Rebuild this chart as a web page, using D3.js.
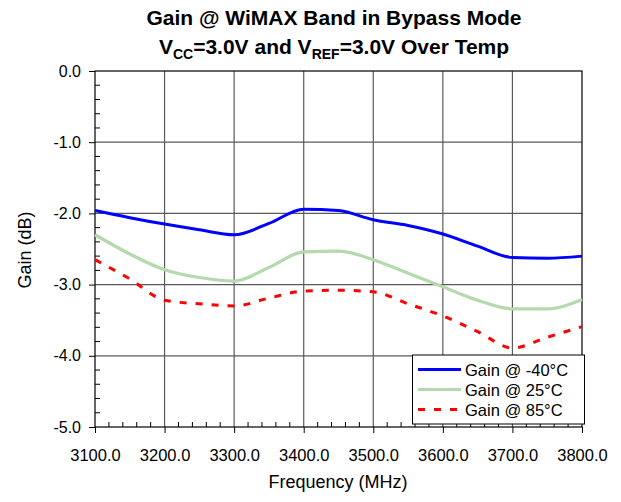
<!DOCTYPE html>
<html><head><meta charset="utf-8">
<script src="https://cdn.jsdelivr.net/npm/d3@7"></script>
<style>body{margin:0;background:#fff}svg{display:block}text{font-family:"Liberation Sans",Arial,sans-serif;fill:#000}</style>
</head><body><svg id="c" width="621" height="502"></svg>
<script>
const freqs = [3100,3150,3200,3250,3300,3350,3400,3450,3500,3550,3600,3650,3700,3750,3800];
const gainM40 = [-1.96,-2.06,-2.15,-2.23,-2.30,-2.14,-1.94,-1.96,-2.09,-2.17,-2.29,-2.46,-2.62,-2.63,-2.60];
const gain25  = [-2.30,-2.57,-2.79,-2.90,-2.95,-2.76,-2.54,-2.53,-2.65,-2.84,-3.03,-3.22,-3.34,-3.34,-3.21];
const gain85  = [-2.65,-2.92,-3.22,-3.27,-3.30,-3.19,-3.09,-3.08,-3.10,-3.27,-3.44,-3.66,-3.89,-3.74,-3.59];
const xTicks = [3100,3200,3300,3400,3500,3600,3700,3800];
const yTicks = [0,-1,-2,-3,-4,-5];
const seriesNames = ["Gain @ -40\u00B0C","Gain @ 25\u00B0C","Gain @ 85\u00B0C"];

const svg = d3.select("#c");
const L=95, R=582, T=71, B=427;
const x = d3.scaleLinear().domain([3100,3800]).range([L,R]);
const y = d3.scaleLinear().domain([0,-5]).range([T,B]);
const fmt = d => d3.format(".1f")(d).replace("\u2212","-");

// grid
svg.append("g").selectAll("line.v").data(xTicks.slice(1,-1)).join("line")
  .attr("x1",d=>x(d)).attr("x2",d=>x(d)).attr("y1",T).attr("y2",B)
  .attr("stroke","#5a5a5a").attr("stroke-width",1.2);
svg.append("g").selectAll("line.h").data(yTicks.slice(1,-1)).join("line")
  .attr("y1",d=>y(d)).attr("y2",d=>y(d)).attr("x1",L).attr("x2",R)
  .attr("stroke","#5a5a5a").attr("stroke-width",1.2);
svg.append("rect").attr("x",L).attr("y",T).attr("width",R-L).attr("height",B-T)
  .attr("fill","none").attr("stroke","#000").attr("stroke-width",1.2);

// axes
const xAxis = d3.axisBottom(x).tickValues(xTicks).tickFormat(fmt).tickSizeInner(6).tickSizeOuter(0).tickPadding(16);
const gx = svg.append("g").attr("transform",`translate(0,${B})`).call(xAxis);
gx.select(".domain").remove();
gx.selectAll("text").style("font-size","16.5px").style("font-family","'Liberation Sans',Arial,sans-serif");
const xMinor = d3.range(3100,3801,20).filter(v=>v%100!==0);
svg.append("g").selectAll("line").data(xMinor).join("line")
  .attr("x1",d=>x(d)).attr("x2",d=>x(d)).attr("y1",B).attr("y2",B-5).attr("stroke","#000");

const yAxis = d3.axisLeft(y).tickValues(yTicks).tickFormat(fmt).tickSizeInner(6).tickSizeOuter(0).tickPadding(8);
const gy = svg.append("g").attr("transform",`translate(${L},0)`).call(yAxis);
gy.select(".domain").remove();
gy.selectAll("text").style("font-size","16px").style("font-family","'Liberation Sans',Arial,sans-serif");
const yMinor = d3.range(0,25).map(i=>-i*0.2).filter((v,i)=>i%5!==0);
svg.append("g").selectAll("line").data(yMinor).join("line")
  .attr("y1",d=>y(d)).attr("y2",d=>y(d)).attr("x1",L).attr("x2",L+5).attr("stroke","#000");

// lines
const line = d3.line().x(d=>x(d[0])).y(d=>y(d[1])).curve(d3.curveMonotoneX);
const series = [
  {v:gainM40, color:"#0000ff", w:3, dash:null},
  {v:gain25, color:"#b3d9ad", w:3.2, dash:null},
  {v:gain85, color:"#ff0000", w:3, dash:"7,9"}
];
series.forEach(s=>{
  svg.append("path").datum(freqs.map((f,i)=>[f,s.v[i]])).attr("d",line)
    .attr("fill","none").attr("stroke",s.color).attr("stroke-width",s.w)
    .attr("stroke-dasharray",s.dash);
});

// legend
const lg = svg.append("g");
lg.append("rect").attr("x",412.5).attr("y",355).attr("width",172).attr("height",69)
  .attr("fill","#fff").attr("stroke","#000").attr("stroke-width",1);
series.forEach((s,i)=>{
  const yy = 369.5 + i*20;
  lg.append("line").attr("x1",418).attr("x2",461).attr("y1",yy).attr("y2",yy)
    .attr("stroke",s.color).attr("stroke-width",s.w).attr("stroke-dasharray",s.dash);
  lg.append("text").attr("x",465).attr("y",yy+6).style("font-size","16.5px").text(seriesNames[i]);
});

// titles
svg.append("text").attr("x",334).attr("y",25).attr("text-anchor","middle")
  .style("font-size","21px").style("font-weight","bold").text("Gain @ WiMAX Band in Bypass Mode");
const t2 = svg.append("text").attr("x",334).attr("y",54).attr("text-anchor","middle")
  .style("font-size","21px").style("font-weight","bold");
t2.append("tspan").text("V");
t2.append("tspan").attr("dy",5).style("font-size","14px").text("CC");
t2.append("tspan").attr("dy",-5).text("=3.0V and V");
t2.append("tspan").attr("dy",5).style("font-size","14px").text("REF");
t2.append("tspan").attr("dy",-5).text("=3.0V Over Temp");

svg.append("text").attr("x",338).attr("y",488).attr("text-anchor","middle")
  .style("font-size","18px").text("Frequency (MHz)");
svg.append("text").attr("transform","translate(31,250) rotate(-90)").attr("text-anchor","middle")
  .style("font-size","18px").text("Gain (dB)");
</script></body></html>
